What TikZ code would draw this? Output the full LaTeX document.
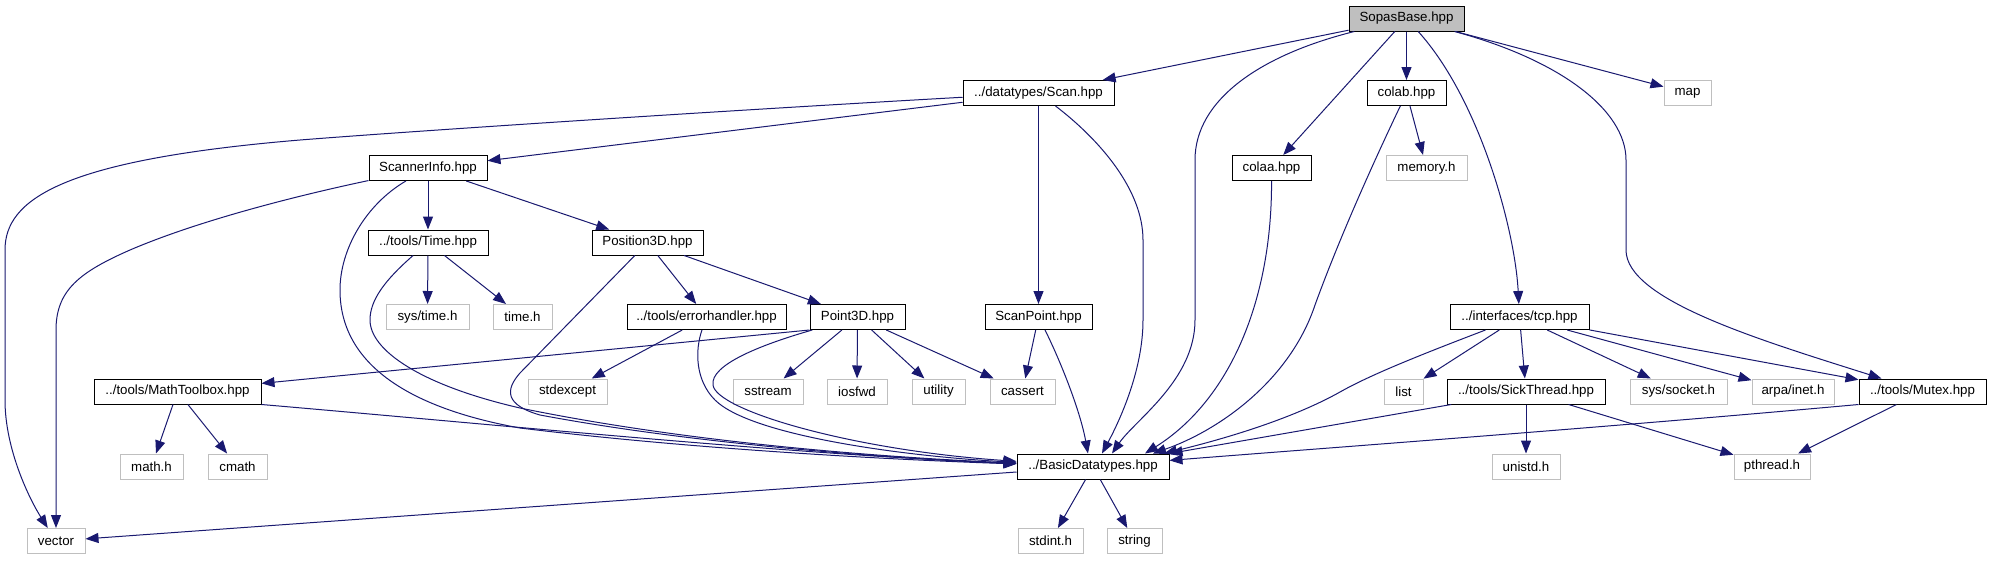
\documentclass[tikz,border=0pt]{standalone}
\usepackage{fontspec}
\setmainfont{Liberation Sans}
\usetikzlibrary{arrows.meta}
\definecolor{edgecol}{HTML}{191970}
\definecolor{sysgray}{HTML}{BFBFBF}
\definecolor{rootfill}{HTML}{BFBFBF}
\begin{document}
\begin{tikzpicture}[x=1pt,y=-1pt,
  boxbase/.style={line width=1pt, minimum height=25pt, inner sep=0pt, fill=white,
    font=\fontsize{13.3pt}{15pt}\selectfont},
  proj/.style={boxbase, draw=black},
  sys/.style={boxbase, draw=sysgray},
  root/.style={boxbase, draw=black, fill=rootfill},
  dep/.style={draw=edgecol, line width=1pt, -{Triangle[length=13pt,width=10pt,fill=edgecol]}}]
\fill[white] (0,0) rectangle (1992,560);
\useasboundingbox (0,0) rectangle (1992,560);

% nodes
\node[root, minimum width=115pt] (sopas) at (1406.5,18.5) {SopasBase.hpp};
\node[proj, minimum width=151pt] (scan) at (1038.5,93) {../datatypes/Scan.hpp};
\node[proj, minimum width=79pt] (colab) at (1406.5,93) {colab.hpp};
\node[sys, minimum width=47pt] (map) at (1687.5,93) {map};
\node[proj, minimum width=79pt] (colaa) at (1271.5,168) {colaa.hpp};
\node[sys, minimum width=81pt] (memory) at (1426.5,168) {memory.h};
\node[proj, minimum width=118pt] (sinfo) at (428,168) {ScannerInfo.hpp};
\node[proj, minimum width=120pt] (time) at (428,242.5) {../tools/Time.hpp};
\node[proj, minimum width=111pt] (pos) at (647.5,242.5) {Position3D.hpp};
\node[sys, minimum width=83pt] (systime) at (427.5,317) {sys/time.h};
\node[sys, minimum width=59pt] (timeh) at (522.5,317) {time.h};
\node[proj, minimum width=159pt] (errh) at (706.5,317) {../tools/errorhandler.hpp};
\node[proj, minimum width=95pt] (point) at (857.5,317) {Point3D.hpp};
\node[proj, minimum width=107pt] (spoint) at (1038.5,317) {ScanPoint.hpp};
\node[proj, minimum width=139pt] (tcp) at (1519.5,317) {../interfaces/tcp.hpp};
\node[proj, minimum width=167pt] (mathtb) at (177.5,391.5) {../tools/MathToolbox.hpp};
\node[sys, minimum width=79pt] (stdexcept) at (567.5,391.5) {stdexcept};
\node[sys, minimum width=70pt] (sstream) at (768,391.5) {sstream};
\node[sys, minimum width=60pt] (iosfwd) at (857,391.5) {iosfwd};
\node[sys, minimum width=53pt] (utility) at (938.5,391.5) {utility};
\node[sys, minimum width=65pt] (cassert) at (1022.5,391.5) {cassert};
\node[sys, minimum width=39pt] (list) at (1403.5,391.5) {list};
\node[proj, minimum width=158pt] (sthread) at (1526,391.5) {../tools/SickThread.hpp};
\node[sys, minimum width=97pt] (socket) at (1678.5,391.5) {sys/socket.h};
\node[sys, minimum width=82pt] (inet) at (1793,391.5) {arpa/inet.h};
\node[proj, minimum width=127pt] (mutex) at (1922.5,391.5) {../tools/Mutex.hpp};
\node[sys, minimum width=63pt] (mathh) at (151.5,466.5) {math.h};
\node[sys, minimum width=59pt] (cmath) at (237.5,466.5) {cmath};
\node[proj, minimum width=152pt] (bdt) at (1093,466.5) {../BasicDatatypes.hpp};
\node[sys, minimum width=68pt] (unistd) at (1526,466.5) {unistd.h};
\node[sys, minimum width=76pt] (pthread) at (1772,466.5) {pthread.h};
\node[sys, minimum width=58pt] (vector) at (56,541) {vector};
\node[sys, minimum width=65pt] (stdint) at (1050.5,541) {stdint.h};
\node[sys, minimum width=55pt] (string) at (1134.5,541) {string};

% SopasBase
\draw[dep] (sopas) -- (scan);
\draw[dep] (sopas) .. controls (1260,55) and (1195,100) .. (1195,160) -- (1195,320) .. controls (1195,380) and (1135,420) .. ([xshift=19pt]bdt.north);
\draw[dep] (sopas) -- (colaa);
\draw[dep] (sopas) -- (colab);
\draw[dep] (sopas) .. controls (1480,100) and (1515,230) .. (tcp);
\draw[dep] (sopas) .. controls (1560,60) and (1626,110) .. (1626,160) -- (1626,250) .. controls (1626,300) and (1760,340) .. (mutex);
\draw[dep] (sopas) -- (map);

% Scan
\draw[dep] (scan) .. controls (700,112) and (400,132) .. (300,140) .. controls (60,160) and (5,200) .. (5,250) -- (5,400) .. controls (5,450) and (30,500) .. (vector);
\draw[dep] (scan) -- (sinfo);
\draw[dep] (scan) -- (spoint);
\draw[dep] (scan) .. controls (1100,140) and (1143,190) .. (1143,240) -- (1143,320) .. controls (1143,370) and (1120,420) .. ([xshift=9pt]bdt.north);

% colab / colaa
\draw[dep] (colab) -- (memory);
\draw[dep] (colab) .. controls (1365,180) and (1335,250) .. (1315,305) .. controls (1290,380) and (1220,430) .. ([xshift=60pt]bdt.north);
\draw[dep] (colaa) .. controls (1272,300) and (1230,400) .. ([xshift=52pt]bdt.north);

% ScannerInfo
\draw[dep] (sinfo) .. controls (300,195) and (200,220) .. (130,250) .. controls (80,272) and (56,290) .. (56,330) -- (vector);
\draw[dep] (sinfo) .. controls (365,205) and (340,250) .. (340,290) .. controls (340,370) and (420,410) .. (520,428) .. controls (700,450) and (900,460) .. (bdt);
\draw[dep] (sinfo) -- (time);
\draw[dep] (sinfo) -- (pos);

% Time
\draw[dep] (time) -- (systime);
\draw[dep] (time) -- (timeh);
\draw[dep] (time) .. controls (385,280) and (370,300) .. (370,320) .. controls (370,350) and (420,385) .. (520,408) .. controls (700,445) and (900,458) .. (bdt);

% Position3D
\draw[dep] (pos) -- (520,373) .. controls (505,390) and (505,405) .. (540,415) .. controls (700,445) and (900,459) .. (bdt);
\draw[dep] (pos) -- (errh);
\draw[dep] (pos) -- (point);

% errorhandler
\draw[dep] (errh) -- (stdexcept);
\draw[dep] (errh) .. controls (695,350) and (695,380) .. (715,400) .. controls (750,435) and (900,456) .. (bdt);

% Point3D
\draw[dep] (point.south west) -- (mathtb);
\draw[dep] (point) .. controls (760,345) and (710,365) .. (713,385) .. controls (716,410) and (850,450) .. (bdt);
\draw[dep] (point) -- (sstream);
\draw[dep] (point) -- (iosfwd);
\draw[dep] (point) -- (utility);
\draw[dep] (point) -- (cassert);

% ScanPoint
\draw[dep] (spoint) -- (cassert);
\draw[dep] (spoint) .. controls (1060,360) and (1080,410) .. ([xshift=-5pt]bdt.north);

% MathToolbox
\draw[dep] (mathtb) -- (mathh);
\draw[dep] (mathtb) -- (cmath);
\draw[dep] (mathtb.south east) .. controls (500,425) and (800,455) .. (bdt);

% tcp
\draw[dep] (tcp) .. controls (1420,355) and (1370,375) .. (1340,392) .. controls (1290,420) and (1220,440) .. ([xshift=71pt]bdt.north);
\draw[dep] (tcp) -- (list);
\draw[dep] (tcp) -- (sthread);
\draw[dep] (tcp) -- (socket);
\draw[dep] (tcp) -- (inet);
\draw[dep] (tcp) -- (mutex);

% SickThread
\draw[dep] (sthread) -- (bdt.north east);
\draw[dep] (sthread) -- (unistd);
\draw[dep] (sthread) -- (pthread);

% Mutex
\draw[dep] (mutex.south west) .. controls (1600,428) and (1300,450) .. (bdt);
\draw[dep] (mutex) -- (pthread);

% BasicDatatypes
\draw[dep] (bdt) -- (vector);
\draw[dep] (bdt) -- (stdint);
\draw[dep] (bdt) -- (string);
\end{tikzpicture}
\end{document}
